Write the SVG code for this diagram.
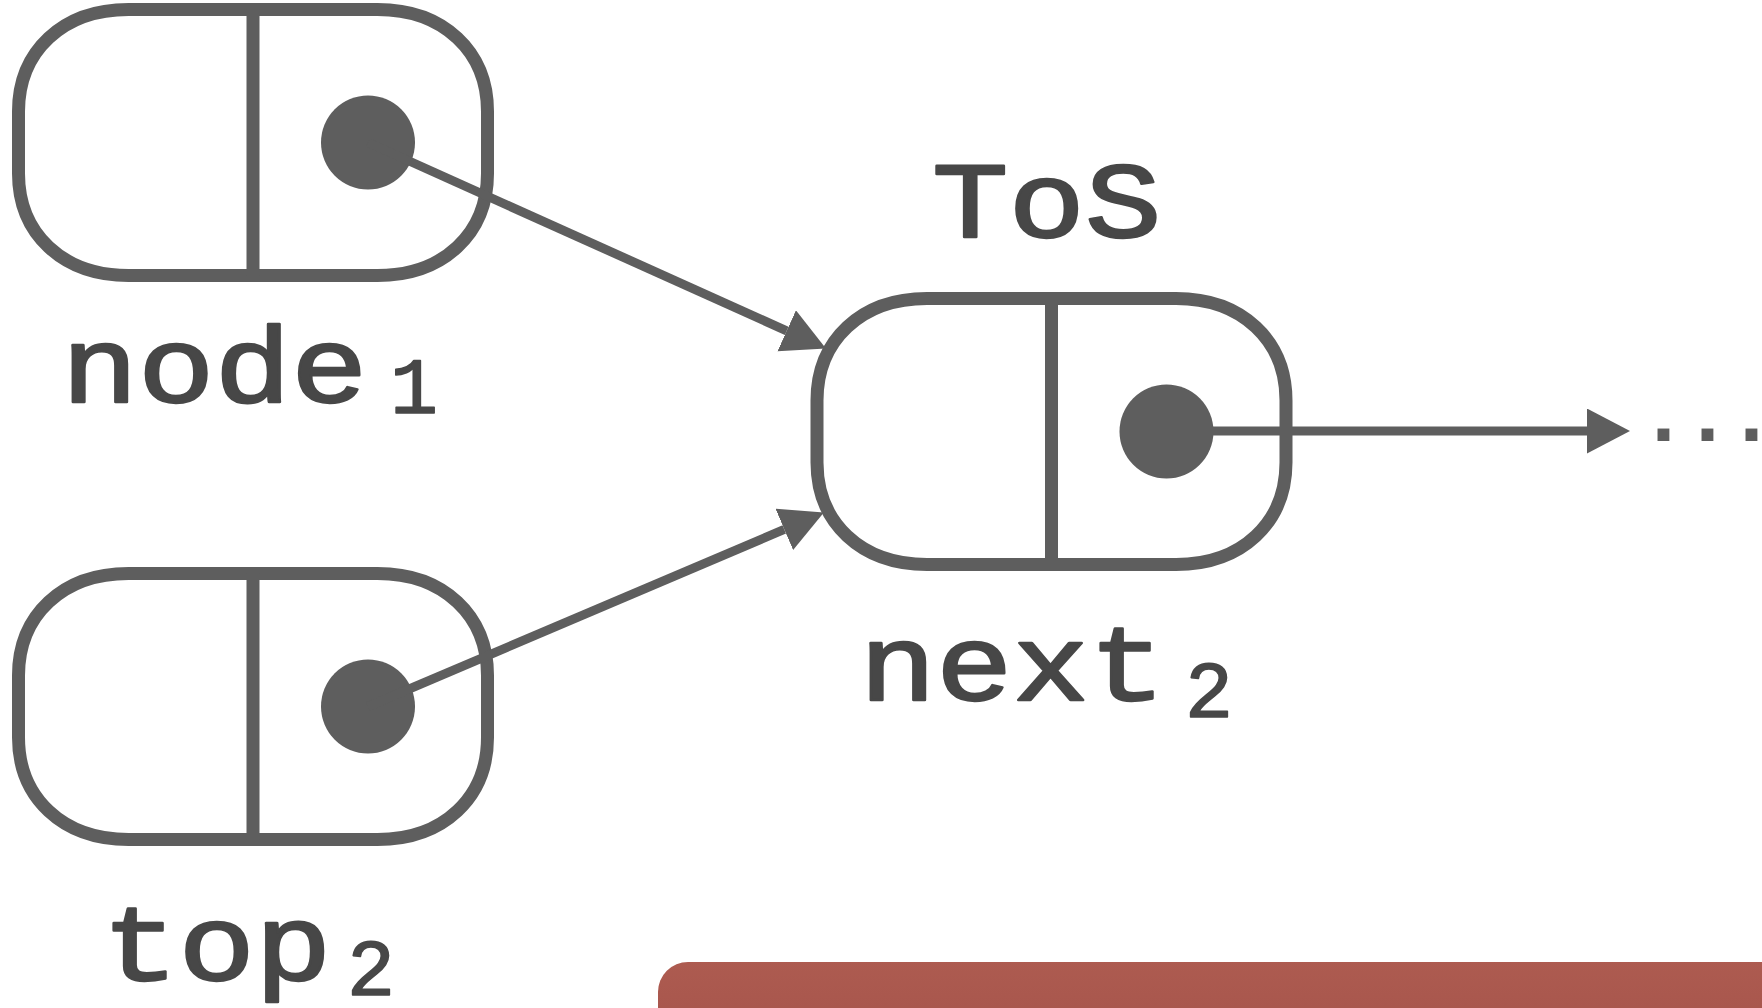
<svg xmlns="http://www.w3.org/2000/svg" width="1762" height="1008" viewBox="0 0 1762 1008">
  <style>
    .box { fill: #ffffff; stroke: #5e5e5e; stroke-width: 13; }
    .div { stroke: #5e5e5e; stroke-width: 13; }
    .ptr { fill: #5e5e5e; }
    .edge { fill: none; stroke: #5e5e5e; stroke-width: 9; }
    .lbl { font-family: "Liberation Mono", "Courier New", monospace; font-size: 108px; fill: #474747; stroke: #474747; stroke-width: 2.4; stroke-linejoin: round; }
    .sub { font-family: "Liberation Mono", "Courier New", monospace; font-size: 80px; fill: #474747; stroke: #474747; stroke-width: 1.6; stroke-linejoin: round; }
    .more { font-family: "Liberation Mono", "Courier New", monospace; font-size: 84px; font-weight: bold; letter-spacing: -6.4px; fill: #5e5e5e; }
  </style>
  <defs>
    <!-- rounded two-cell list cell, stroke-centre box 469 x 266 -->
    <path id="cell" d="M110,0 H359 C425.2,0 469,42 469,102 V164 C469,224 425.2,266 359,266 H110 C43.8,266 0,224 0,164 V102 C0,42 43.8,0 110,0 Z"/>
    <marker id="head" markerUnits="userSpaceOnUse" markerWidth="44" markerHeight="46" refX="0" refY="22.5" orient="auto" viewBox="0 0 44 46">
      <path d="M0,0 L43,22.5 L0,45 Z" fill="#5e5e5e"/>
    </marker>
    <linearGradient id="panel" x1="0" y1="0" x2="0" y2="1">
      <stop offset="0" stop-color="#ad5b50"/>
      <stop offset="1" stop-color="#a4524a"/>
    </linearGradient>
  </defs>

  <!-- list cells -->
  <g id="node1" transform="translate(18.5,9.5)">
    <use href="#cell" class="box"/>
    <line class="div" x1="234.5" y1="0" x2="234.5" y2="266"/>
    <circle class="ptr" cx="349.5" cy="133" r="47"/>
  </g>
  <g id="tos" transform="translate(817,298.5)">
    <use href="#cell" class="box"/>
    <line class="div" x1="234.5" y1="0" x2="234.5" y2="266"/>
    <circle class="ptr" cx="349.5" cy="133" r="47"/>
  </g>
  <g id="top2" transform="translate(18.5,573.5)">
    <use href="#cell" class="box"/>
    <line class="div" x1="234.5" y1="0" x2="234.5" y2="266"/>
    <circle class="ptr" cx="349.5" cy="133" r="47"/>
  </g>

  <!-- pointers -->
  <g id="connectors">
    <line class="edge" x1="368" y1="142.5" x2="786.7" y2="330.8" marker-end="url(#head)"/>
    <line class="edge" x1="368" y1="706.5" x2="784.3" y2="529.4" marker-end="url(#head)"/>
    <line class="edge" x1="1166" y1="431" x2="1587" y2="431" marker-end="url(#head)"/>
  </g>

  <!-- labels: monospace widened to typewriter proportions -->
  <g id="labels">
    <g id="label-node1">
      <text class="lbl" transform="translate(61.5,402) scale(1.18,1)">node</text>
      <text class="sub" x="390" y="413">1</text>
    </g>
    <text id="label-tos" class="lbl" transform="translate(932,237) scale(1.18,1)">ToS</text>
    <g id="label-next2">
      <text class="lbl" transform="translate(859.5,700) scale(1.18,1)">next</text>
      <text class="sub" x="1185" y="717">2</text>
    </g>
    <g id="label-top2">
      <text class="lbl" transform="translate(102,980) scale(1.18,1)">top</text>
      <text class="sub" x="347" y="995">2</text>
    </g>
    <text class="more" x="1638.3" y="441">...</text>
  </g>

  <!-- panel edge at the bottom -->
  <rect id="panel-edge" x="658" y="962" width="1160" height="100" rx="30" fill="url(#panel)"/>
</svg>
